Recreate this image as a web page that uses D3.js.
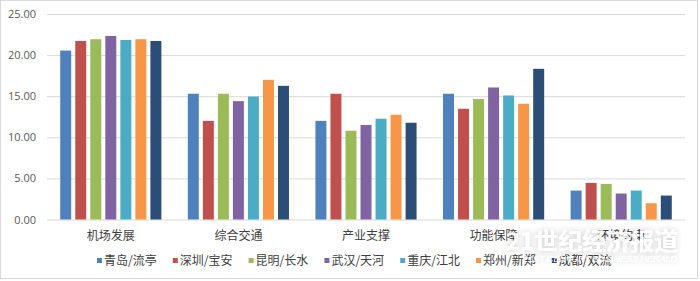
<!DOCTYPE html>
<html>
<head>
<meta charset="utf-8">
<script src="https://cdn.jsdelivr.net/npm/d3@7"></script>
<style>
  html, body { margin: 0; padding: 0; background: #fff; }
  text { font-family: "Noto Sans CJK SC", "Noto Sans", sans-serif; }
</style>
</head>
<body>
<div id="chart"></div>
<script>
/* Data */
const categories = ['机场发展', '综合交通', '产业支撑', '功能保障', '环境约束'];
const seriesNames = ['青岛/流亭', '深圳/宝安', '昆明/长水', '武汉/天河', '重庆/江北', '郑州/新郑', '成都/双流'];
const seriesValues = [
  [20.55, 15.30, 12.00, 15.30, 3.52],   // 青岛/流亭
  [21.72, 12.00, 15.30, 13.47, 4.45],   // 深圳/宝安
  [21.93, 15.30, 10.80, 14.65, 4.33],   // 昆明/长水
  [22.33, 14.40, 11.50, 16.06, 3.16],   // 武汉/天河
  [21.84, 14.96, 12.26, 15.09, 3.52],   // 重庆/江北
  [21.93, 16.99, 12.74, 14.08, 1.98],   // 郑州/新郑
  [21.72, 16.26, 11.77, 18.33, 2.91]    // 成都/双流
];
const yTicks = [0, 5, 10, 15, 20, 25];

const colors = ['#4f81bd', '#c0504d', '#9bbb59', '#8064a2', '#4bacc6', '#f79646', '#2c4d75'];

/* Dimensions */
let width = 700, height = 281;
let plotLeft = 47, plotRight = 685, plotTop = 14, plotBottom = 219.5;

let svg = d3.select('#chart')
  .append('svg')
  .attr('width', width)
  .attr('height', height);

// frame
svg.append('rect')
  .attr('x', 0.5).attr('y', 0.5)
  .attr('width', width - 3).attr('height', height - 3)
  .attr('fill', '#fff')
  .attr('stroke', '#d9d9d9');

let x = d3.scaleBand()
  .domain(categories)
  .range([plotLeft, plotRight]);

let xInner = d3.scaleBand()
  .domain(seriesNames)
  .range([0, x.bandwidth()])
  .paddingInner(0.27)
  .paddingOuter(0.88);

let y = d3.scaleLinear()
  .domain([0, 25])
  .range([plotBottom, plotTop]);

// gridlines + y labels
let yAxis = svg.append('g')
  .attr('transform', 'translate(' + plotLeft + ',0)')
  .call(d3.axisLeft(y).tickValues(yTicks).tickFormat(d3.format('.2f'))
    .tickSize(-(plotRight - plotLeft)).tickPadding(11));
yAxis.select('.domain').remove();
yAxis.selectAll('line').attr('stroke', '#d9d9d9').attr('stroke-width', 1);
yAxis.selectAll('text')
  .attr('fill', '#595959')
  .style('font-size', '11px')
  .style('font-family', '"Open Sans", "Noto Sans", sans-serif');

// bars
let groups = svg.selectAll('.group')
  .data(categories)
  .enter().append('g')
  .attr('transform', d => 'translate(' + x(d) + ',0)');

groups.selectAll('rect')
  .data((c, ci) => seriesNames.map((s, si) => ({ s: s, i: si, v: seriesValues[si][ci] })))
  .enter().append('rect')
  .attr('x', d => xInner(d.s))
  .attr('width', xInner.bandwidth())
  .attr('y', d => y(d.v))
  .attr('height', d => y(0) - y(d.v))
  .attr('fill', d => colors[d.i]);

// category labels
svg.selectAll('.cat')
  .data(categories)
  .enter().append('text')
  .attr('x', d => x(d) + x.bandwidth() / 2)
  .attr('y', 240)
  .attr('text-anchor', 'middle')
  .attr('fill', '#404040')
  .style('font-size', '12px')
  .text(d => d);

// legend
let legendStart = 97, legendStep = 75.8;
let legend = svg.selectAll('.legend')
  .data(seriesNames)
  .enter().append('g')
  .attr('transform', (d, i) => 'translate(' + (legendStart + i * legendStep) + ',263)');
legend.append('rect')
  .attr('x', 0).attr('y', -5)
  .attr('width', 5).attr('height', 5)
  .attr('fill', (d, i) => colors[i]);
legend.append('text')
  .attr('x', 7).attr('y', 2)
  .attr('fill', '#404040')
  .style('font-size', '12px')
  .text(d => d);

// watermark
let defs = svg.append('defs');
let f = defs.append('filter').attr('id', 'shadow').attr('x', '-20%').attr('y', '-50%')
  .attr('width', '140%').attr('height', '200%');
f.append('feDropShadow').attr('dx', 0).attr('dy', 0).attr('stdDeviation', 3)
  .attr('flood-color', '#000').attr('flood-opacity', 0.25);

let wm = svg.append('g').attr('opacity', 0.9).attr('filter', 'url(#shadow)');
wm.append('text')
  .attr('x', 592).attr('y', 250)
  .attr('text-anchor', 'middle')
  .attr('fill', '#fff')
  .style('font-size', '24px')
  .style('font-weight', 'bold')
  .style('font-family', '"Noto Sans CJK SC", serif')
  .text('21世纪经济报道');
wm.append('text')
  .attr('x', 600).attr('y', 262)
  .attr('text-anchor', 'middle')
  .attr('fill', '#fff')
  .style('font-size', '9px')
  .style('font-style', 'italic')
  .style('font-family', '"Liberation Sans", sans-serif')
  .text('21ST CENTURY BUSINESS HERALD');
</script>
</body>
</html>
